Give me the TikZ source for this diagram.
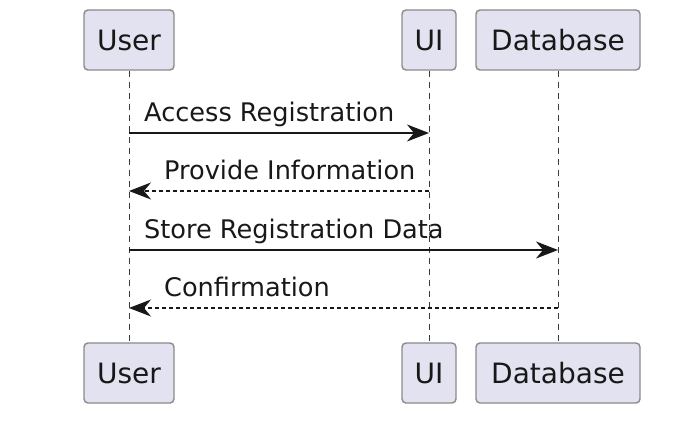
\documentclass[tikz,border=0pt]{standalone}
\usepackage{fontspec}
\setmainfont{DejaVu Sans}
\usetikzlibrary{arrows.meta,calc,positioning}

\definecolor{partfill}{HTML}{E2E2F0}
\definecolor{partline}{HTML}{8A8A8A}
\definecolor{ink}{HTML}{181818}

\begin{document}
\begin{tikzpicture}[x=1pt, y=-1pt, >={Stealth[length=22pt, width=17pt, inset=7pt]},
		part/.style={draw=partline, fill=partfill, line width=1.4pt, rounded corners=4pt,
			minimum height=60pt, inner sep=0pt, font=\fontsize{28}{31}\selectfont, text=ink},
		life/.style={ink!85, line width=1pt, dash pattern=on 6pt off 5pt},
		msg/.style={ink, line width=1.6pt, ->},
		reply/.style={ink, line width=1.2pt, dash pattern=on 4pt off 3pt, ->},
		lbl/.style={anchor=base west, inner sep=0pt, font=\fontsize{25.6}{28}\selectfont, text=ink}]
		
		\useasboundingbox (0,0) rectangle (694,446);
		
		% participants, top row
		\node[part, minimum width=90pt] (user) at (129,40) {User};
		\node[part, minimum width=54pt] (ui) at (429,40) {UI};
		\node[part, minimum width=164pt] (db) at (558,40) {Database};
		
		% participants, bottom row
		\node[part, minimum width=90pt] (userB) at (129,373) {User};
		\node[part, minimum width=54pt] (uiB) at (429,373) {UI};
		\node[part, minimum width=164pt] (dbB) at (558,373) {Database};
		
		% lifelines
		\draw[life] (user) -- (userB);
		\draw[life] (ui) -- (uiB);
		\draw[life] (db) -- (dbB);
		
		% message ends on the lifelines
		\coordinate (u1) at (user |- 0,133);
		\coordinate (i1) at (ui |- 0,133);
		\coordinate (u2) at (user |- 0,191);
		\coordinate (i2) at (ui |- 0,191);
		\coordinate (u3) at (user |- 0,250);
		\coordinate (d3) at (db |- 0,250);
		\coordinate (u4) at (user |- 0,308);
		\coordinate (d4) at (db |- 0,308);
		
		% messages
		\draw[msg] (u1) -- (i1);
		\node[lbl] (l1) at ($(u1)+(15,-11)$) {Access Registration};
		
		\draw[reply] (i2) -- (u2);
		\node[lbl] (l2) at ($(u2)+(35,-11)$) {Provide Information};
		
		\draw[msg] (u3) -- (d3);
		\node[lbl] (l3) at ($(u3)+(15,-11)$) {Store Registration Data};
		
		\draw[reply] (d4) -- (u4);
		\node[lbl] (l4) at ($(u4)+(35,-11)$) {Confirmation};
		
	\end{tikzpicture}
\end{document}
